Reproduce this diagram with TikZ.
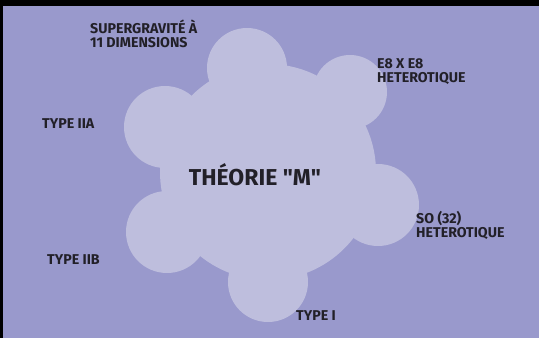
\documentclass[tikz,border=0pt]{standalone}
\usepackage{fontspec}
\setmainfont{Fira Sans}[Ligatures=TeXOff]
\definecolor{bg}{HTML}{9999CC}
\definecolor{blob}{HTML}{BEBEDD}
\definecolor{ink}{HTML}{222028}
\begin{document}
\begin{tikzpicture}[x=1pt,y=-1pt,
  lbl/.style={font=\bfseries\fontsize{14.2}{13.8}\selectfont, text=ink, inner sep=0pt, align=left, anchor=base west},
  blobpart/.style={fill=blob}]
\useasboundingbox (0,0) rectangle (539,338);
\fill[bg] (0,0) rectangle (539,338);
% cloud
\fill[blobpart] (268,172) circle[radius=108pt];
\fill[blobpart] (247,68) circle[radius=40pt];
\fill[blobpart] (350,92) circle[radius=37pt];
\fill[blobpart] (165,127) circle[radius=41pt];
\fill[blobpart] (378,205) circle[radius=41pt];
\fill[blobpart] (167,232) circle[radius=41pt];
\fill[blobpart] (268,282) circle[radius=40pt];
% frame
\fill[black] (0,0) rectangle (539,5.5);
\fill[black] (0,0) rectangle (3,338);
% labels
\node[lbl] (sugra) at (90,47) {SUPERGRAVITÉ À\\11 DIMENSIONS};
\node[lbl] (e8) at (377,82) {E8 X E8\\HETEROTIQUE};
\node[lbl] (iia) at (42,128) {TYPE IIA};
\node[lbl, font=\bfseries\fontsize{23}{24}\selectfont, anchor=base] (m) at (255,185) {THÉORIE "M"};
\node[lbl] (so) at (416,237) {SO (32)\\HETEROTIQUE};
\node[lbl] (iib) at (47,264) {TYPE IIB};
\node[lbl] (i) at (296,320) {TYPE I};
\end{tikzpicture}
\end{document}
